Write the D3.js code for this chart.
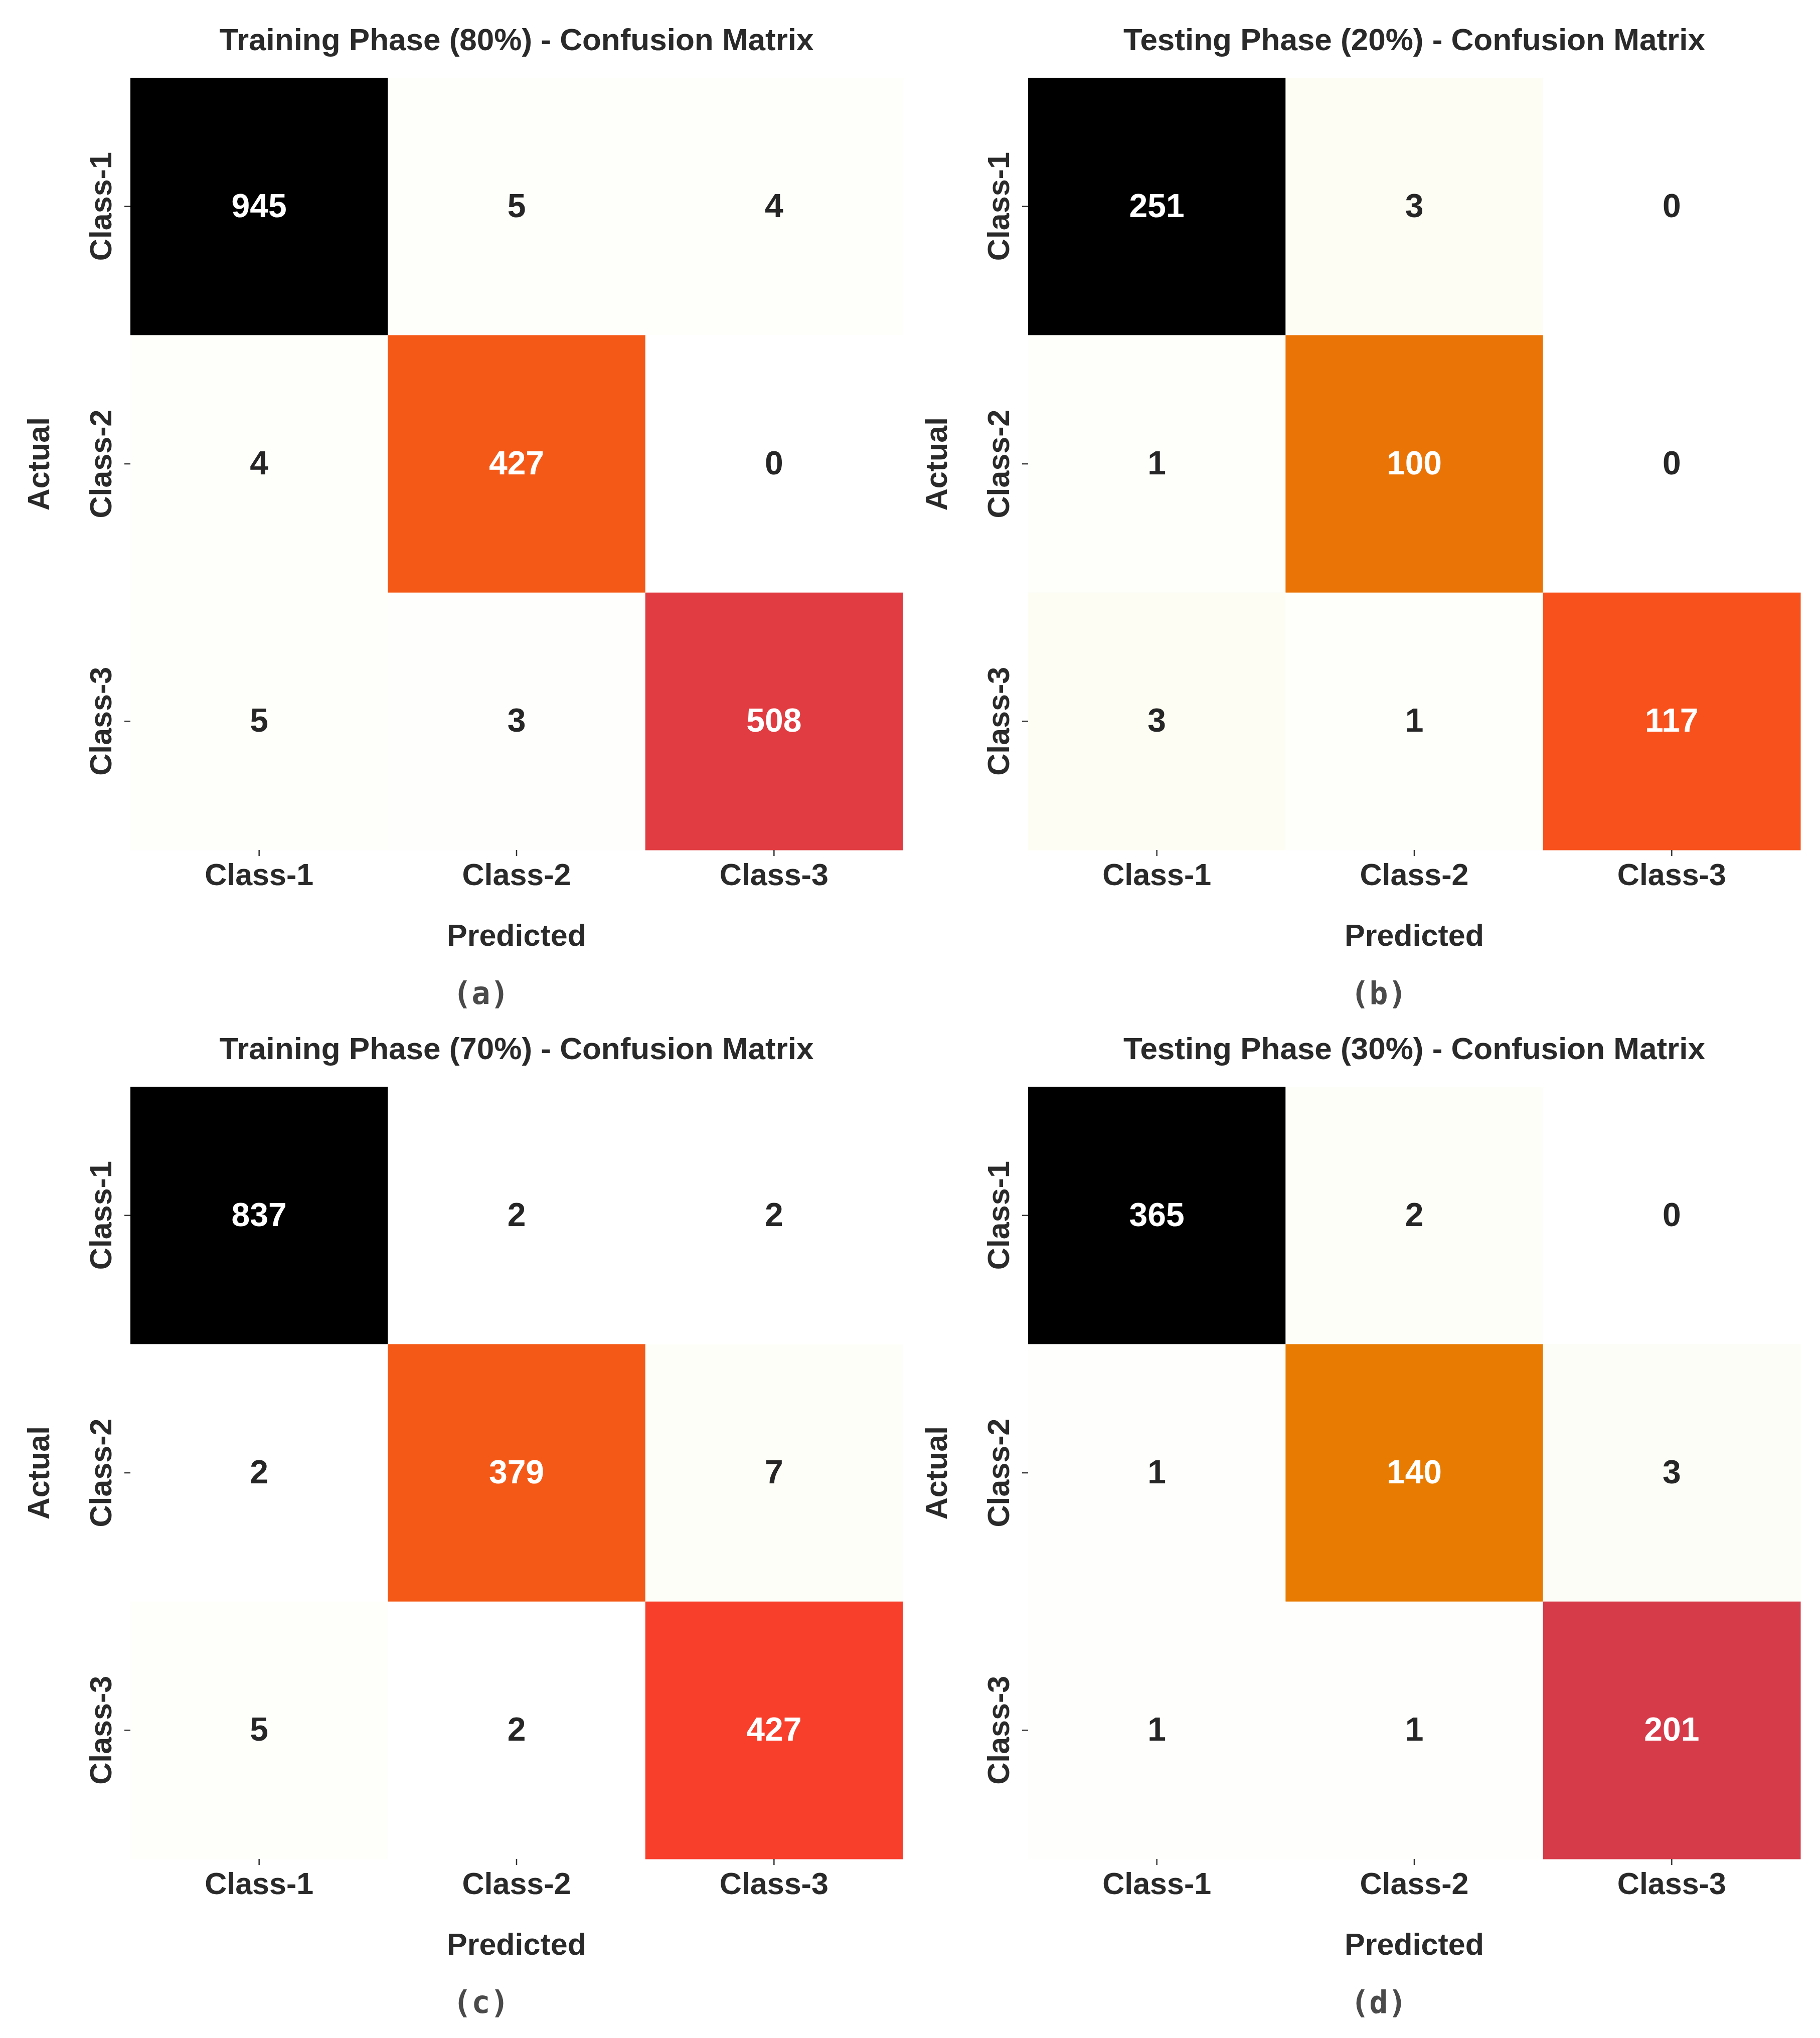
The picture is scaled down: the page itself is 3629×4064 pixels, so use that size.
<!DOCTYPE html>
<html>
<head>
<meta charset="utf-8">
<script src="https://cdn.jsdelivr.net/npm/d3@7"></script>
<style>
  html, body { margin: 0; padding: 0; background: #ffffff; }
  svg { display: block; }
</style>
</head>
<body>
<svg id="chart" width="3629" height="4064"></svg>
<script>
// ---------------- DATA ----------------
const classes = ["Class-1", "Class-2", "Class-3"];

const titles = [
  "Training Phase (80%) - Confusion Matrix",
  "Testing Phase (20%) - Confusion Matrix",
  "Training Phase (70%) - Confusion Matrix",
  "Testing Phase (30%) - Confusion Matrix"
];

const captions = ["(a)", "(b)", "(c)", "(d)"];

const matrixA = [[945, 5, 4], [4, 427, 0], [5, 3, 508]];
const matrixB = [[251, 3, 0], [1, 100, 0], [3, 1, 117]];
const matrixC = [[837, 2, 2], [2, 379, 7], [5, 2, 427]];
const matrixD = [[365, 2, 0], [1, 140, 3], [1, 1, 201]];

const matrices = [matrixA, matrixB, matrixC, matrixD];

const xLabel = "Predicted";
const yLabel = "Actual";

// ---------------- STYLE / LAYOUT ----------------
const textColor = "#2a2a2a";
const fontMain = "'Liberation Sans', Arial, Helvetica, sans-serif";
const fontCaption = "'DejaVu Sans Mono', monospace";

const panelOrigins = [
  { x: 260, y: 155 },
  { x: 2050, y: 155 },
  { x: 260, y: 2167 },
  { x: 2050, y: 2167 }
];
const size = 1540;

// CMRmap (matplotlib) control points, reversed use (CMRmap_r)
const cmrStops = [
  [0.00, 0.00, 0.00], [0.15, 0.15, 0.50], [0.30, 0.15, 0.75],
  [0.60, 0.20, 0.50], [1.00, 0.25, 0.15], [0.90, 0.50, 0.00],
  [0.90, 0.75, 0.10], [0.90, 0.90, 0.50], [1.00, 1.00, 1.00]
];
const cmr = d3.scaleLinear()
  .domain(d3.range(cmrStops.length).map(i => i / (cmrStops.length - 1)))
  .range(cmrStops.map(c => d3.rgb(c[0] * 255, c[1] * 255, c[2] * 255).toString()))
  .interpolate(d3.interpolateRgb)
  .clamp(true);
const cmrR = t => cmr(1 - t);

function relLum(col) {
  const c = d3.rgb(col);
  const f = v => { v /= 255; return v <= 0.03928 ? v / 12.92 : Math.pow((v + 0.055) / 1.055, 2.4); };
  return 0.2126 * f(c.r) + 0.7152 * f(c.g) + 0.0722 * f(c.b);
}

const svg = d3.select("#chart");

matrices.forEach((m, pi) => {
  const o = panelOrigins[pi];
  const g = svg.append("g").attr("transform", `translate(${o.x},${o.y})`);

  const x = d3.scaleBand().domain(classes).range([0, size]);
  const y = d3.scaleBand().domain(classes).range([0, size]);

  const flat = m.flat();
  const norm = d3.scaleLinear().domain([d3.min(flat), d3.max(flat)]).range([0, 1]);

  const cells = [];
  m.forEach((row, ri) => row.forEach((v, ci) => cells.push({ r: classes[ri], c: classes[ci], v })));

  g.selectAll("rect.cell").data(cells).join("rect")
    .attr("class", "cell")
    .attr("x", d => x(d.c))
    .attr("y", d => y(d.r))
    .attr("width", x.bandwidth() + 0.5)
    .attr("height", y.bandwidth() + 0.5)
    .attr("fill", d => cmrR(norm(d.v)));

  g.selectAll("text.val").data(cells).join("text")
    .attr("class", "val")
    .attr("x", d => x(d.c) + x.bandwidth() / 2)
    .attr("y", d => y(d.r) + y.bandwidth() / 2 + 21)
    .attr("text-anchor", "middle")
    .attr("font-family", fontMain)
    .attr("font-weight", "bold")
    .attr("font-size", 66)
    .attr("fill", d => relLum(cmrR(norm(d.v))) < 0.408 ? "#ffffff" : "#262626")
    .text(d => d.v);

  // bottom axis
  const gx = g.append("g").attr("transform", `translate(0,${size})`)
    .call(d3.axisBottom(x).tickSize(12).tickSizeOuter(0));
  gx.select(".domain").remove();
  gx.selectAll(".tick line").attr("stroke", "#333").attr("stroke-width", 2.5);
  gx.selectAll(".tick text")
    .attr("y", 70).attr("dy", null)
    .attr("font-family", fontMain).attr("font-weight", "bold")
    .attr("font-size", 61).attr("fill", textColor);

  // left axis
  const gy = g.append("g")
    .call(d3.axisLeft(y).tickSize(12).tickSizeOuter(0));
  gy.select(".domain").remove();
  gy.selectAll(".tick line").attr("stroke", "#333").attr("stroke-width", 2.5);
  gy.selectAll(".tick text")
    .attr("x", 0).attr("y", 0).attr("dy", null)
    .attr("text-anchor", "middle")
    .attr("transform", "translate(-38,0) rotate(-90)")
    .attr("font-family", fontMain).attr("font-weight", "bold")
    .attr("font-size", 61).attr("fill", textColor);

  // title
  g.append("text")
    .attr("x", size / 2).attr("y", -55)
    .attr("text-anchor", "middle")
    .attr("font-family", fontMain).attr("font-weight", "bold")
    .attr("font-size", 62).attr("fill", textColor)
    .text(titles[pi]);

  // x label
  g.append("text")
    .attr("x", size / 2).attr("y", size + 191)
    .attr("text-anchor", "middle")
    .attr("font-family", fontMain).attr("font-weight", "bold")
    .attr("font-size", 61).attr("fill", textColor)
    .text(xLabel);

  // y label
  g.append("text")
    .attr("transform", `translate(-162,${size / 2}) rotate(-90)`)
    .attr("text-anchor", "middle")
    .attr("font-family", fontMain).attr("font-weight", "bold")
    .attr("font-size", 61).attr("fill", textColor)
    .text(yLabel);

  // caption
  g.append("text")
    .attr("x", size / 2 - 71).attr("y", size + 307)
    .attr("text-anchor", "middle")
    .attr("font-family", fontCaption)
    .attr("font-weight", "bold")
    .attr("font-size", 62).attr("fill", "#4a4a4a")
    .text(captions[pi]);
});
</script>
</body>
</html>
